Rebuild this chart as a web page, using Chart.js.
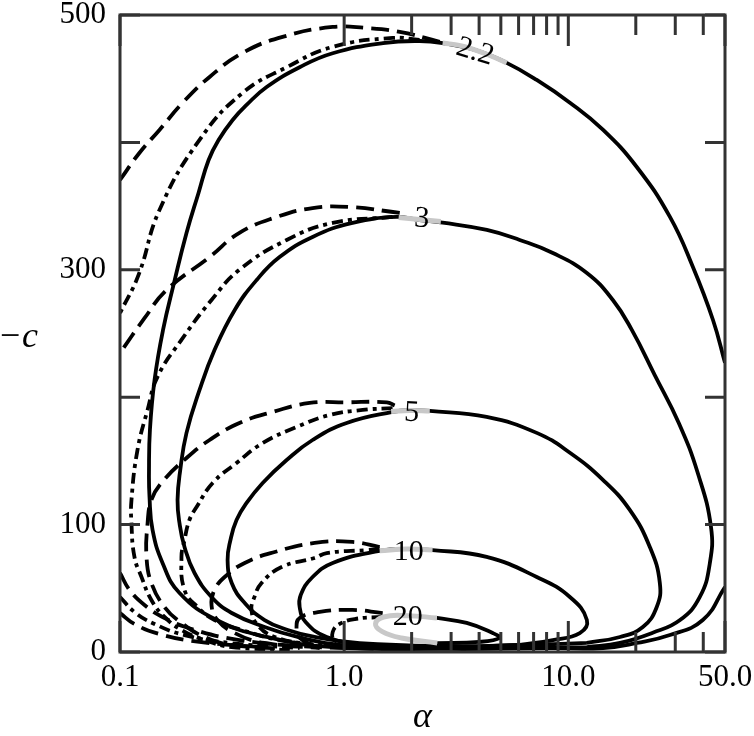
<!DOCTYPE html>
<html lang="en">
<head>
<meta charset="UTF-8">
<title>Contours in alpha and -c</title>
<script src="https://cdn.jsdelivr.net/npm/chart.js"></script>
<style>
  html, body { margin: 0; padding: 0; background: #fff; }
  #wrap { width: 754px; height: 736px; }
</style>
</head>
<body>
<div id="wrap"><canvas id="contourChart" width="754" height="736"></canvas></div>
<script>
// axis ticks
const xMajorTicks = [0.1, 1, 10, 50];
const xTickLabels = ['0.1', '1.0', '10.0', '50.0'];
const xMinorTicks = [2, 3, 4, 5, 6, 7, 8, 9, 20, 30, 40];
const yTicks = [0, 100, 200, 300, 400, 500];
const yTickLabels = ['0', '100', '', '300', '', '500'];

// contour levels and where their labels sit (alpha, -c)
const levels = ['2.2', '3', '5', '10', '20'];
const labelAt = [[3.83, 471], [2.22, 340], [2.0, 187.6], [1.94, 78.5], [1.92, 27.5]];

// solid contours, [alpha, -c]
const solid22 = [[50,227],[44.2,260.6],[36,302],[28.4,341.5],[20.2,380.7],[14.3,409.8],[10.2,431],[7.23,449],[5.31,462.4],[3.83,472.6],[2.75,478],[2.17,479.6],[1.49,478],[0.889,470],[0.633,459],[0.451,443.5],[0.367,429.4],[0.318,417.6],[0.2753,401.9],[0.2485,386.2],[0.224,360.3],[0.198,328.9],[0.1742,289.7],[0.1556,252.8],[0.1426,213.5],[0.136,174.3],[0.1347,142.9],[0.1354,121.7],[0.1397,95.8],[0.1548,69.9],[0.1843,46.3],[0.27,25.1],[0.451,11.8],[0.889,3.9],[2.96,2.4],[8.27,3],[14.3,3.1],[20.2,7.1],[28.4,13.3],[39.8,25.1],[50,51]];
const solid3 = [[12.1,3.9],[17.0,7.1],[23.8,15.1],[31.5,25.1],[38.6,43.2],[42.8,69.9],[43.3,98.1],[37.8,140.5],[31.1,179.8],[24.3,217.4],[19.2,252.8],[15.8,276.3],[12.1,297.5],[8.53,313.2],[6.07,323.4],[4.33,331.3],[2.75,337],[2.17,339],[1.715,341.5],[1.09,336.8],[0.723,325.8],[0.515,310],[0.407,292],[0.325,268.5],[0.264,237],[0.2264,205.7],[0.198,172],[0.1857,142.9],[0.1806,119.3],[0.1843,101],[0.194,82.4],[0.215,62],[0.256,43.2],[0.315,30.6],[0.4416,19.6],[0.62,11.8],[0.955,5.5],[2.17,3.1],[4.94,3.1],[12.1,3.9]];
const solid5 = [[12.1,7.1],[17.0,11.8],[21.5,19.6],[24.8,35.3],[25.6,54.2],[23.1,82.4],[18.8,111.5],[14.3,135],[10.2,156.2],[7.23,172],[4.32,184.5],[2.41,189.2],[1.96,189.8],[1.645,188.5],[1.026,179.8],[0.723,166.4],[0.554,150.7],[0.433,132.7],[0.367,117],[0.331,103.6],[0.311,87.9],[0.302,72.2],[0.315,54.2],[0.36,38.5],[0.4416,25.1],[0.56,17.3],[0.738,11.8],[1.172,7],[2.96,4.7],[6.07,5.5],[12.1,7.1]];
const solid10 = [[6.07,5.5],[8.53,9.4],[11.25,14.9],[12.1,25.1],[10.16,43.2],[7.23,58.9],[4.32,74.6],[2.48,80],[1.90,80.9],[1.44,79.3],[0.889,69.9],[0.716,58.1],[0.64,44.7],[0.633,35.3],[0.673,23.6],[0.836,11.8],[1.26,5.5],[2.67,3.9],[6.07,5.5]];
const solid20 = [[2.6,7],[4.0,7.9],[4.94,11],[4.6,14.9],[3.52,22.8],[2.59,26.7]];

// dashed contours
const dash22 = [[2.67,479],[1.77,486.7],[1.26,489.8],[0.889,490.6],[0.531,482.8],[0.352,470.2],[0.251,451.4],[0.19,431],[0.15,409.8],[0.122,391.7],[0.1,370.5]];
const dash22Low = [[0.1,62],[0.1103,48.7],[0.1286,36.9],[0.158,26.7],[0.215,17.3],[0.341,9.4],[0.633,4.7],[1.44,2.4]];
const dash3 = [[1.77,344.6],[1.059,349.3],[0.723,348.5],[0.50,341.5],[0.341,329],[0.251,310],[0.161,284],[0.1286,262],[0.1,234.7]];
const dash3Low = [[0.1,30.6],[0.116,22],[0.15,14.1],[0.226,7.9],[0.42,3.9]];
const dash5 = [[1.68,193.5],[1.55,196],[1.026,196],[0.7015,195.5],[0.48,188.4],[0.341,179.8],[0.251,166.4],[0.198,152.3],[0.153,132.7],[0.138,119.3],[0.1328,101.3],[0.1313,74.6],[0.138,54.2],[0.158,35.3],[0.188,22.8],[0.238,11.8],[0.315,5.5],[0.571,2.4]];
const dash10 = [[1.44,82.4],[1.09,86.4],[0.738,85.6],[0.49,78.5],[0.36,69.9],[0.293,58.9],[0.264,48.7],[0.256,36.9],[0.272,25.1],[0.325,14.9],[0.44,7.1],[0.778,3.1]];
const dash20 = [[1.486,30.6],[1.09,33],[0.778,31.4],[0.633,26.7],[0.613,18.8],[0.633,11],[0.738,4.7]];

// dash-dot contours
const dashdot22 = [[2.17,480.4],[1.645,482],[0.889,475],[0.554,459],[0.352,438.8],[0.2264,402],[0.150,347],[0.121,296],[0.1,266]];
const dashdot22Low = [[0.1,43.2],[0.116,31.4],[0.1425,22],[0.194,13.3],[0.308,7.1],[0.633,3.1]];
const dashdot3 = [[1.645,341.5],[0.889,336.8],[0.554,323.4],[0.341,300],[0.256,276.3],[0.188,245],[0.147,216],[0.1327,190],[0.1197,158.6],[0.1125,119.3],[0.1125,101],[0.116,74.6],[0.1247,58.9],[0.138,40.8],[0.158,27.5],[0.188,17.3],[0.238,9.4],[0.315,3.9],[0.571,1.6]];
const dashdot5 = [[1.645,191.5],[1.21,190],[0.861,186],[0.614,176.6],[0.433,164],[0.331,148.4],[0.259,132.7],[0.2196,113.8],[0.204,103.6],[0.194,87.9],[0.188,74.6],[0.194,48.7],[0.222,35.3],[0.264,25.1],[0.3486,17.3],[0.515,9.4],[0.861,4.7]];
const dashdot10 = [[1.44,80.9],[1.26,80],[0.836,77.7],[0.738,73.8],[0.526,66.7],[0.428,54.2],[0.398,43.2],[0.386,33],[0.411,21.2],[0.49,11.8],[0.70,5.5]];
const dashdot20 = [[1.486,27.5],[1.115,25.9],[0.955,22],[0.889,15.7],[0.9,7.9],[0.955,3.1]];

// grey pieces of the contours under the labels
const gray22 = [[2.75,478],[3.3,476],[3.83,472.6],[4.5,468],[5.31,462.4]];
const gray3 = [[1.75,341],[2.17,339.5],[2.7,338]];
const gray5 = [[1.62,188.8],[1.96,189.6],[2.41,189.2]];
const gray10 = [[1.44,79.5],[1.9,80.8],[2.48,80]];
const gray20 = [[2.59,26.7],[1.92,28.5],[1.5,27.5],[1.38,22],[1.48,16],[1.8,11],[2.6,7]];

const SERIF = "'Liberation Serif', 'Times New Roman', serif";
const DASH = [18, 8];
const DASHDOT = [11, 5, 4, 5];

function curve(points, dash, color, width, order) {
    return {
        data: points.map(p => ({ x: p[0], y: p[1] })),
        showLine: true,
        borderColor: color,
        borderWidth: width,
        borderDash: dash,
        borderCapStyle: 'butt',
        pointRadius: 0,
        tension: 0.45,
        fill: false,
        order: order
    };
}

const datasets = [
    ...[solid22, solid3, solid5, solid10, solid20].map(p => curve(p, [], '#000', 3.8, 1)),
    ...[dash22, dash22Low, dash3, dash3Low, dash5, dash10, dash20].map(p => curve(p, DASH, '#000', 3.8, 1)),
    ...[dashdot22, dashdot22Low, dashdot3, dashdot5, dashdot10, dashdot20].map(p => curve(p, DASHDOT, '#000', 3.8, 1)),
    ...[gray22, gray3, gray5, gray10, gray20].map(p => curve(p, [], '#c8c8c8', 5, 0))
];

// frame, inward ticks, contour labels and axis titles
const framePlugin = {
    id: 'frame',
    afterDatasetsDraw(chart) {
        const { ctx, chartArea: a, scales: { x, y } } = chart;
        ctx.save();

        // contour labels
        const angles = [17, 4, 3, 0, 0];
        ctx.fillStyle = '#000';
        ctx.font = '30px ' + SERIF;
        ctx.textAlign = 'center';
        ctx.textBaseline = 'middle';
        levels.forEach((t, i) => {
            ctx.save();
            ctx.translate(x.getPixelForValue(labelAt[i][0]), y.getPixelForValue(labelAt[i][1]));
            ctx.rotate(angles[i] * Math.PI / 180);
            ctx.fillText(t, 0, 0);
            ctx.restore();
        });

        // ticks
        ctx.strokeStyle = '#333';
        ctx.lineWidth = 3;
        ctx.beginPath();
        yTicks.forEach(v => {
            const py = y.getPixelForValue(v);
            ctx.moveTo(a.left, py); ctx.lineTo(a.left + 20, py);
            ctx.moveTo(a.right, py); ctx.lineTo(a.right - 20, py);
        });
        xMajorTicks.forEach(v => {
            const px = x.getPixelForValue(v);
            ctx.moveTo(px, a.bottom); ctx.lineTo(px, a.bottom - 31);
            ctx.moveTo(px, a.top); ctx.lineTo(px, a.top + 31);
        });
        xMinorTicks.forEach(v => {
            const px = x.getPixelForValue(v);
            ctx.moveTo(px, a.bottom); ctx.lineTo(px, a.bottom - 20);
            ctx.moveTo(px, a.top); ctx.lineTo(px, a.top + 20);
        });
        ctx.stroke();
        ctx.strokeRect(a.left, a.top, a.right - a.left, a.bottom - a.top);

        // axis titles
        ctx.fillStyle = '#000';
        ctx.font = 'italic 36px ' + SERIF;
        ctx.textBaseline = 'alphabetic';
        ctx.textAlign = 'center';
        ctx.fillText('\u03b1', (a.left + a.right) / 2, 727);
        ctx.textAlign = 'right';
        ctx.fillText('\u2212c', 38, 347);
        ctx.restore();
    }
};

new Chart(document.getElementById('contourChart'), {
    type: 'scatter',
    data: { datasets: datasets },
    options: {
        responsive: false,
        animation: false,
        layout: { padding: { left: 0, right: 29, top: 15, bottom: 0 } },
        plugins: { legend: { display: false }, tooltip: { enabled: false } },
        scales: {
            x: {
                type: 'logarithmic',
                min: 0.1,
                max: 50,
                grid: { display: false, drawTicks: false },
                border: { display: false },
                afterBuildTicks: s => { s.ticks = xMajorTicks.map(v => ({ value: v })); },
                afterFit: s => { s.height = 84; s.paddingLeft = 0; s.paddingRight = 0; },
                ticks: {
                    autoSkip: false,
                    maxRotation: 0,
                    padding: 7,
                    color: '#000',
                    font: { family: SERIF, size: 31 },
                    callback: (v, i) => xTickLabels[i]
                }
            },
            y: {
                min: 0,
                max: 500,
                grid: { display: false, drawTicks: false },
                border: { display: false },
                afterBuildTicks: s => { s.ticks = yTicks.map(v => ({ value: v })); },
                afterFit: s => { s.width = 120; s.paddingTop = 0; s.paddingBottom = 0; },
                ticks: {
                    autoSkip: false,
                    padding: 14,
                    color: '#000',
                    font: { family: SERIF, size: 31 },
                    callback: (v, i) => yTickLabels[i]
                }
            }
        }
    },
    plugins: [framePlugin]
});
</script>
</body>
</html>
